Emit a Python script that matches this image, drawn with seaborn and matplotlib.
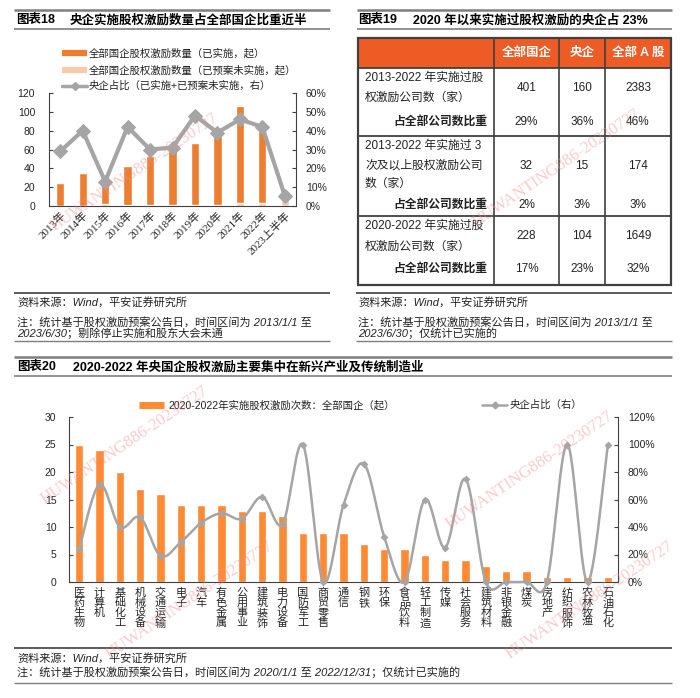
import numpy as np
import matplotlib
matplotlib.use("Agg")
import matplotlib.pyplot as plt
import seaborn as sns
from matplotlib.patches import Rectangle

sns.set_theme(style="white")
plt.rcParams["font.family"] = ["Liberation Sans", "Noto Sans CJK SC", "DejaVu Sans"]
plt.rcParams["axes.unicode_minus"] = False

# ---------------- data: chart 18 ----------------
years = ["2013年", "2014年", "2015年", "2016年", "2017年", "2018年", "2019年",
         "2020年", "2021年", "2022年", "2023上半年"]
implemented = [24, 35, 21, 42, 52, 59, 66, 73, 103, 77, 7]
pending = [0, 0, 2, 1, 1, 1, 1, 1, 3, 3, 9]
central_share_18 = [29, 40, 13, 42, 30, 31, 48, 39, 46, 42, 5.5]
legend18 = ["全部国企股权激励数量（已实施，起）",
            "全部国企股权激励数量（已预案未实施，起）",
            "央企占比（已实施+已预案未实施，右）"]

# ---------------- data: chart 19 (table) ----------------
table_header = ["全部国企", "央企", "全部 A 股"]
row_label_lines = [["2013-2022 年实施过股", "权激励公司数（家）"],
                   ["2013-2022 年实施过 3", "次及以上股权激励公司", "数（家）"],
                   ["2020-2022 年实施过股", "权激励公司数（家）"]]
row_counts = [["401", "160", "2383"], ["32", "15", "174"], ["228", "104", "1649"]]
row_ratios = [["29%", "36%", "46%"], ["2%", "3%", "3%"], ["17%", "23%", "32%"]]
ratio_label = "占全部公司数比重"

# ---------------- data: chart 20 ----------------
industries = ["医药生物", "计算机", "基础化工", "机械设备", "交通运输", "电子", "汽车",
              "有色金属", "公用事业", "建筑装饰", "电力设备", "国防军工", "商贸零售",
              "通信", "钢铁", "环保", "食品饮料", "轻工制造", "传媒", "社会服务",
              "建筑材料", "非银金融", "煤炭", "房地产", "纺织服饰", "农林牧渔", "石油石化"]
counts_20 = [25, 24, 20, 17, 16, 14, 14, 14, 13, 13, 12, 9, 9, 9, 7, 6, 6, 5, 4, 4,
             3, 2, 2, 1, 1, 1, 1]
central_share_20 = [24, 71, 40, 47, 19, 29, 43, 50, 46, 62, 42, 100, 0, 56, 86, 33, 0,
                    60, 25, 75, 0, 0, 0, 0, 100, 0, 100]
legend20 = ["2020-2022年实施股权激励次数：全部国企（起）", "央企占比（右）"]

# ---------------- styling ----------------
DARK_OR = "#ED7D31"
LIGHT_OR = "#F8CBAD"
BAR20 = "#FF8A33"
GRAY = "#A5A5A5"
AXC = "#404040"
TXT = "#000000"

W, H = 700, 698
fig = plt.figure(figsize=(W / 100, H / 100), dpi=100)
fig.patch.set_facecolor("white")

ov = fig.add_axes([0, 0, 1, 1])
ov.set_xlim(0, W)
ov.set_ylim(H, 0)
ov.axis("off")


def px_axes(l, t, r, b):
    a = fig.add_axes([l / W, 1 - b / H, (r - l) / W, (b - t) / H])
    a.set_facecolor("none")
    return a


def hline(x0, x1, y, lw=1.0, c="#595959"):
    ov.plot([x0, x1], [y, y], color=c, lw=lw, solid_capstyle="butt")


def title(x0, x1, x_num, x_txt, y, num, txt):
    hline(x0, x1, y - 10, lw=1.8, c="#7F7F7F")
    hline(x0, x1, y + 9, lw=1.2, c="#7F7F7F")
    ov.text(x_num, y, num, fontsize=9, fontweight="bold", va="center", ha="left", color=TXT)
    ov.text(x_txt, y, txt, fontsize=9, fontweight="bold", va="center", ha="left", color=TXT)


def note(x, y, s):
    ov.text(x, y, s, fontsize=8, style="italic", va="center", ha="left", color="#222222")


# ================= Chart 18 =================
title(14, 330, 16, 70, 20, "图表18", "央企实施股权激励数量占全部国企比重近半")

leg_y = [53, 70, 86]
ov.plot([62, 87], [leg_y[0]] * 2, color=DARK_OR, lw=4.5, solid_capstyle="butt")
ov.plot([62, 87], [leg_y[1]] * 2, color=LIGHT_OR, lw=4.5, solid_capstyle="butt")
ov.plot([62, 87], [leg_y[2]] * 2, color=GRAY, lw=2.5)
ov.plot([74.5], [leg_y[2]], marker="D", ms=4, color=GRAY)
for yy, s in zip(leg_y, legend18):
    ov.text(89, yy, s, fontsize=7.5, va="center", ha="left", color="#222222")

ax1 = px_axes(49, 93, 296, 206)
totals = [a + b for a, b in zip(implemented, pending)]
sns.barplot(x=years, y=totals, color=DARK_OR, saturation=1, width=0.37,
            errorbar=None, ax=ax1, order=years)
sns.barplot(x=years, y=pending, color=LIGHT_OR, saturation=1, width=0.37,
            errorbar=None, ax=ax1, order=years)
ax1.set_ylim(0, 120)
ax1.set_yticks(np.arange(0, 121, 20))
ax1.set_xlim(-0.5, len(years) - 0.5)
ax1.set_xlabel("")
ax1.set_ylabel("")
ax1.set_xticks(range(len(years)))
ax1.set_xticklabels(years, rotation=45, ha="right", va="top", rotation_mode="anchor",
                    fontsize=8, family=["Liberation Serif", "Noto Sans CJK SC"])
ax1.set_xticks(np.arange(-0.5, len(years), 1), minor=True)
ax1.tick_params(axis="x", which="major", length=0, pad=3)
ax1.tick_params(axis="x", which="minor", length=3, direction="out", color=AXC, width=0.8)
ax1.tick_params(axis="y", length=3, direction="in", color=AXC, width=0.8, labelsize=7.5, pad=10)
for sp in ["top", "right"]:
    ax1.spines[sp].set_visible(False)
for sp in ["left", "bottom"]:
    ax1.spines[sp].set_color(AXC)
    ax1.spines[sp].set_linewidth(0.8)

ax1b = ax1.twinx()
ax1b.set_facecolor("none")
sns.lineplot(x=np.arange(len(years)), y=central_share_18, ax=ax1b, color=GRAY, lw=3,
             marker="D", markersize=7, markeredgecolor=GRAY, markerfacecolor=GRAY)
ax1b.set_ylim(0, 60)
ax1b.set_yticks(np.arange(0, 61, 10))
ax1b.set_yticklabels([f"{v}%" for v in range(0, 61, 10)])
ax1b.set_ylabel("")
ax1b.tick_params(axis="y", length=3, direction="in", color=AXC, width=0.8, labelsize=7.5, pad=7)
for sp in ["top", "left", "bottom"]:
    ax1b.spines[sp].set_visible(False)
ax1b.spines["right"].set_color(AXC)
ax1b.spines["right"].set_linewidth(0.8)
ax1.set_xlim(-0.5, len(years) - 0.5)

hline(14, 330, 293, lw=1.2, c="#404040")
note(17, 302, "资料来源：Wind，平安证券研究所")
note(17, 322, "注：统计基于股权激励预案公告日，时间区间为 2013/1/1 至")
note(17, 333, "2023/6/30；剔除停止实施和股东大会未通")
hline(14, 330, 341, lw=1.0, c="#7F7F7F")

# ================= Chart 19 (table) =================
title(357, 672, 358, 413, 20, "图表19", "2020 年以来实施过股权激励的央企占 23%")

tx0, tx1 = 358, 671
ty0, ty_head, ty1 = 38, 68, 285
col_edges = [tx0, 494, 559, 605, tx1]
col_centers = [(col_edges[i] + col_edges[i + 1]) / 2 for i in range(1, 4)]
group_edges = [ty_head, 136, 216, ty1]
label_y = [[78, 98], [146, 166, 184], [226, 247]]
count_y = [88, 166, 236]
ratio_y = [122, 205, 269]

ov.add_patch(Rectangle((tx0, ty0), tx1 - tx0, ty_head - ty0, facecolor="#EF5B25",
                       edgecolor="none", zorder=1))
for s, cx in zip(table_header, col_centers):
    ov.text(cx, (ty0 + ty_head) / 2, s, color="white", fontsize=9, fontweight="bold",
            ha="center", va="center", zorder=3)
for gy in group_edges[:-1]:
    hline(tx0, tx1, gy, lw=1.3, c="#404040")
for cx in col_edges[1:-1]:
    ov.plot([cx, cx], [ty0, ty1], color="#404040", lw=1.2, zorder=2)
ov.add_patch(Rectangle((tx0, ty0), tx1 - tx0, ty1 - ty0, fill=False,
                       edgecolor="#404040", lw=1.6, zorder=4))
for g in range(3):
    for s, yy in zip(row_label_lines[g], label_y[g]):
        ov.text(365, yy, s, fontsize=8.5, ha="left", va="center", color="#222222")
    for s, cx in zip(row_counts[g], col_centers):
        ov.text(cx, count_y[g], s, fontsize=8.5, ha="center", va="center", color="#222222")
    ov.text(487, ratio_y[g], ratio_label, fontsize=8.5, fontweight="bold", style="italic",
            ha="right", va="center", color="#222222")
    for s, cx in zip(row_ratios[g], col_centers):
        ov.text(cx, ratio_y[g], s, fontsize=8.5, ha="center", va="center", color="#222222")

hline(356, 672, 293, lw=1.2, c="#404040")
note(358, 302, "资料来源：Wind，平安证券研究所")
note(358, 322, "注：统计基于股权激励预案公告日，时间区间为 2013/1/1 至")
note(358, 333, "2023/6/30；仅统计已实施的")
hline(356, 672, 341, lw=1.0, c="#7F7F7F")

# ================= Chart 20 =================
title(14, 672, 17, 73, 367, "图表20", "2020-2022 年央国企股权激励主要集中在新兴产业及传统制造业")

ov.plot([139, 164], [405, 405], color=BAR20, lw=5, solid_capstyle="butt")
ov.text(168, 405, legend20[0], fontsize=7.5, va="center", ha="left", color="#222222")
ov.plot([482, 507], [405, 405], color=GRAY, lw=1.8)
ov.plot([494.5], [405], marker="D", ms=3.5, color=GRAY)
ov.text(510, 405, legend20[1], fontsize=7.5, va="center", ha="left", color="#222222")

ax3 = px_axes(69, 417, 618, 582)
sns.barplot(x=industries, y=counts_20, color=BAR20, saturation=1, width=0.4,
            errorbar=None, ax=ax3, order=industries)
ax3.set_ylim(0, 30)
ax3.set_yticks(np.arange(0, 31, 5))
ax3.set_xlim(-0.5, len(industries) - 0.5)
ax3.set_xlabel("")
ax3.set_ylabel("")
ax3.set_xticks(range(len(industries)))
ax3.set_xticklabels(["\n".join(s) for s in industries], fontsize=8, linespacing=1.0,
                    va="top", ha="center")
ax3.tick_params(axis="x", length=0, pad=4)
ax3.tick_params(axis="y", length=3, direction="in", color=AXC, width=0.8, labelsize=7.5, pad=9)
for sp in ["top", "right"]:
    ax3.spines[sp].set_visible(False)
for sp in ["left", "bottom"]:
    ax3.spines[sp].set_color(AXC)
    ax3.spines[sp].set_linewidth(0.8)


def catmull_rom(xs, ys, n=30):
    P = np.column_stack([np.asarray(xs, float), np.asarray(ys, float)])
    P = np.vstack([P[0], P, P[-1]])
    segs = []
    t = np.linspace(0, 1, n, endpoint=False)[:, None]
    for i in range(1, len(P) - 2):
        p0, p1, p2, p3 = P[i - 1], P[i], P[i + 1], P[i + 2]
        c1 = p1 + (p2 - p0) / 6
        c2 = p2 - (p3 - p1) / 6
        segs.append((1 - t) ** 3 * p1 + 3 * (1 - t) ** 2 * t * c1
                    + 3 * (1 - t) * t ** 2 * c2 + t ** 3 * p2)
    segs.append(P[-2][None, :])
    return np.vstack(segs)


ax3b = ax3.twinx()
ax3b.set_facecolor("none")
xi = np.arange(len(industries))
curve = catmull_rom(xi, central_share_20)
sns.lineplot(x=curve[:, 0], y=curve[:, 1], sort=False, estimator=None, ax=ax3b,
             color=GRAY, lw=1.8)
for ln in ax3b.lines:
    ln.set_clip_on(False)
sns.scatterplot(x=xi, y=central_share_20, ax=ax3b, marker="D", s=16, color=GRAY,
                edgecolor=GRAY, linewidth=0, zorder=5, clip_on=False)
ax3b.set_ylim(0, 120)
ax3b.set_yticks(np.arange(0, 121, 20))
ax3b.set_yticklabels([f"{v}%" for v in range(0, 121, 20)])
ax3b.set_ylabel("")
ax3b.tick_params(axis="y", length=3, direction="in", color=AXC, width=0.8, labelsize=7.5, pad=7)
for sp in ["top", "left", "bottom"]:
    ax3b.spines[sp].set_visible(False)
ax3b.spines["right"].set_color(AXC)
ax3b.spines["right"].set_linewidth(0.8)
ax3.set_xlim(-0.5, len(industries) - 0.5)

hline(14, 672, 648, lw=1.2, c="#404040")
note(17, 658, "资料来源：Wind，平安证券研究所")
note(17, 672, "注：统计基于股权激励预案公告日，时间区间为 2020/1/1 至 2022/12/31；仅统计已实施的")
hline(14, 672, 683, lw=1.0, c="#7F7F7F")

# ================= watermarks =================
wm = "HUWANTING886-20230727"
for (cx, cy) in [(135, 172), (557, 168), (125, 445), (530, 470), (190, 600), (590, 600)]:
    fig.text(cx / W, 1 - cy / H, wm, rotation=34, ha="center", va="center",
             rotation_mode="anchor", fontsize=12, color="#F28C8C", alpha=0.45,
             family=["Liberation Serif"], zorder=10)

fig.savefig("out.png", dpi=100, facecolor="white")
